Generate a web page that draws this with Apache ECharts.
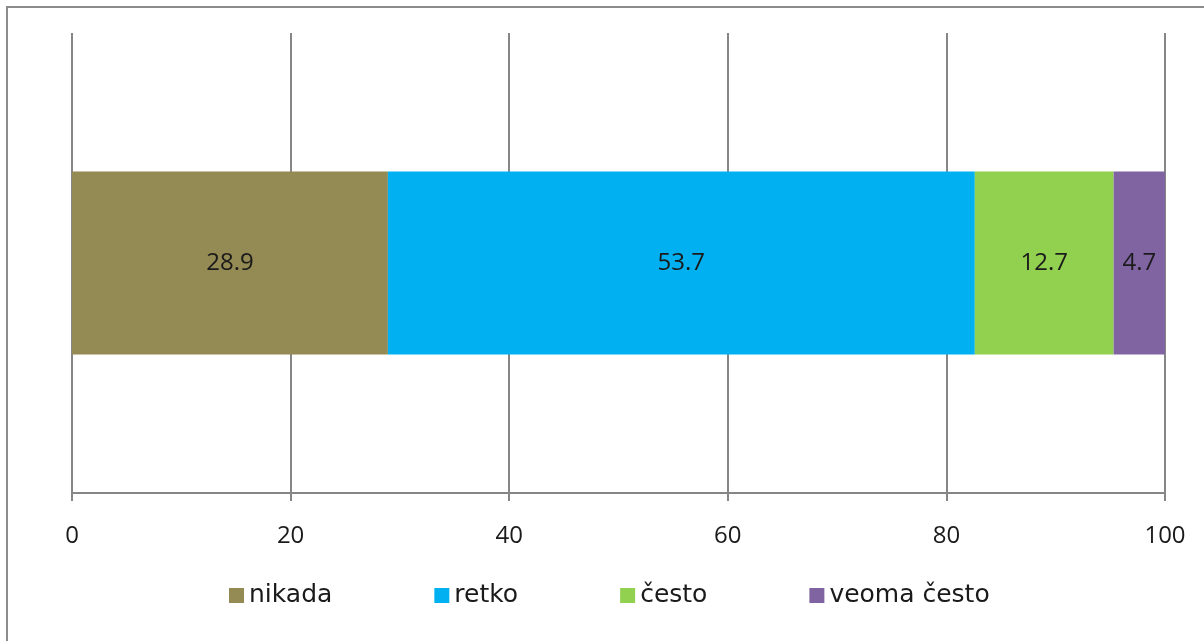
<!DOCTYPE html>
<html>
<head>
<meta charset="utf-8">
<script src="https://cdn.jsdelivr.net/npm/echarts@6/dist/echarts.min.js"></script>
<style>
  html, body { margin: 0; padding: 0; background: #fff; }
  #frame { position: absolute; left: 6px; top: 6px; width: 1210px; height: 650px;
           border: 2px solid #8c8c8c; box-sizing: border-box; }
  #chart { position: absolute; left: 0; top: 0; width: 1204px; height: 641px; }
</style>
</head>
<body>
<div id="frame"></div>
<div id="chart"></div>
<script>
  "use strict";

  var categories = ["Q"];
  var seriesNames = ["nikada", "retko", "često", "veoma često"];
  var seriesValues = [[28.9], [53.7], [12.7], [4.7]];
  var seriesColors = ["#948A54", "#00B0F0", "#92D050", "#8064A2"];
  var xTicks = [0, 20, 40, 60, 80, 100];

  var numFont = "'Open Sans', 'DejaVu Sans', sans-serif";
  var textFont = "'DejaVu Sans', sans-serif";
  var gray = "#868686";

  var chart = echarts.init(document.getElementById("chart"), null, { renderer: "canvas" });

  function buildSeries() {
    return seriesNames.map(function(name, i) {
      return {
        name: name,
        type: "bar",
        stack: "total",
        barWidth: 183,
        data: seriesValues[i],
        itemStyle: { color: seriesColors[i] },
        label: {
          show: true,
          position: "inside",
          color: "#1a1a1a",
          fontFamily: numFont,
          fontSize: 24,
          formatter: function(p) { return p.value.toFixed(1); }
        }
      };
    });
  }

  var options = {
    animation: false,
    grid: { left: 72, right: 39, top: 33, bottom: 148, containLabel: false },
    legend: {
      data: seriesNames,
      left: 229,
      top: 583,
      padding: 0,
      itemWidth: 15,
      itemHeight: 15,
      itemGap: 102,
      icon: "rect",
      textStyle: { fontFamily: textFont, fontSize: 25, color: "#1a1a1a" }
    },
    xAxis: {
      type: "value",
      min: xTicks[0],
      max: xTicks[xTicks.length - 1],
      interval: 20,
      axisLine: { show: true, lineStyle: { color: gray, width: 2 } },
      axisTick: { show: true, length: 8, lineStyle: { color: gray, width: 2 } },
      axisLabel: { fontFamily: numFont, fontSize: 24, color: "#1a1a1a", margin: 31 },
      splitLine: { show: true, lineStyle: { color: gray, width: 2 } }
    },
    yAxis: {
      type: "category",
      data: categories,
      axisLine: { show: false },
      axisTick: { show: false },
      axisLabel: { show: false }
    },
    series: buildSeries()
  };

  chart.setOption(options);
</script>
</body>
</html>
